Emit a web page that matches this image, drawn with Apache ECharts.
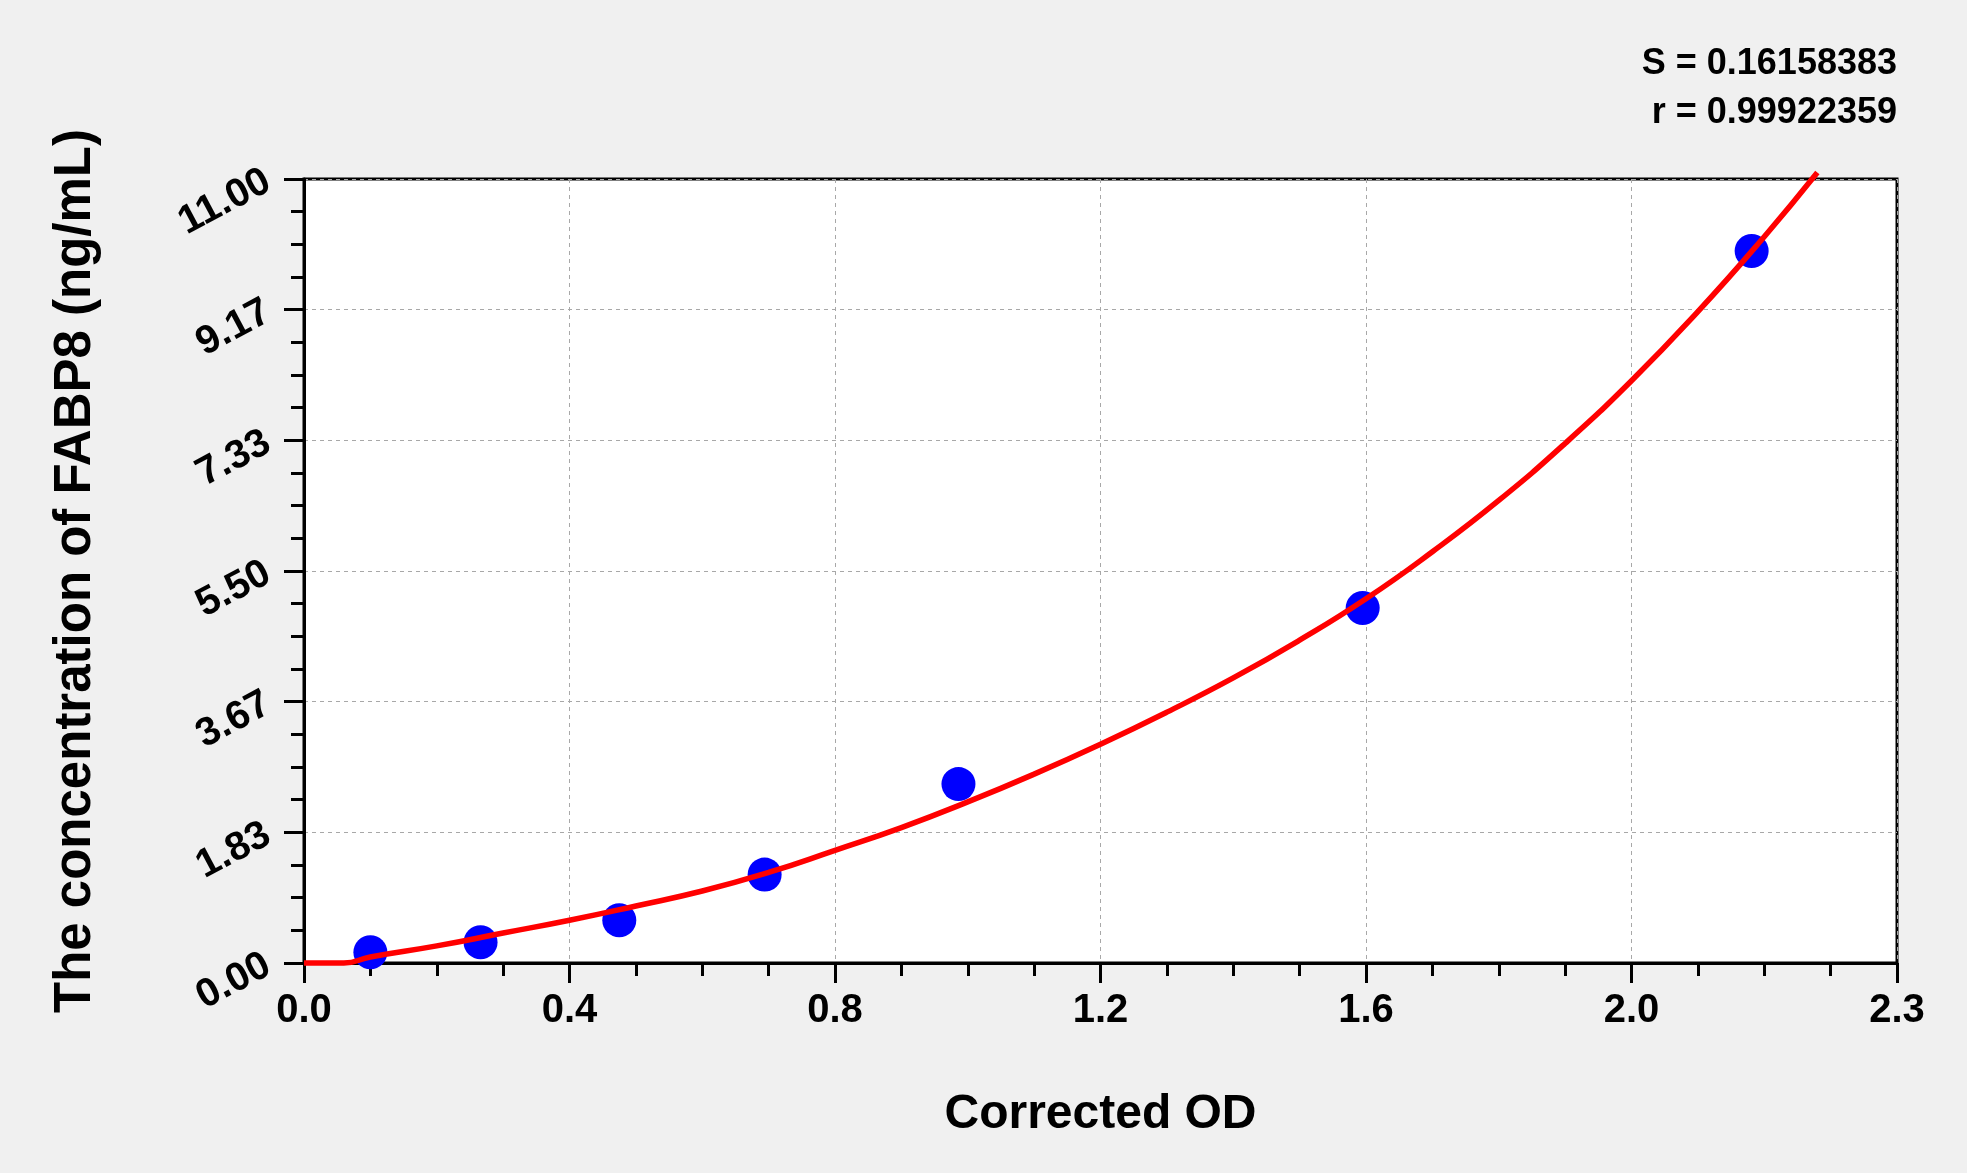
<!DOCTYPE html>
<html lang="en">
<head>
    <meta charset="UTF-8">
    <title>FABP8 standard curve</title>
    <script src="https://cdn.jsdelivr.net/npm/echarts@6/dist/echarts.min.js"></script>
    <style>
        html, body { margin: 0; padding: 0; background: #f0f0f0; }
        #main { width: 1967px; height: 1173px; }
    </style>
</head>
<body>
<div id="main"></div>
<script>
    // standard points (corrected OD vs concentration)
    var odValues = [0.100, 0.266, 0.475, 0.694, 0.986, 1.595, 2.181];
    var concValues = [0.15, 0.29, 0.60, 1.24, 2.51, 4.98, 9.99];

    // fitted curve
    var curveOD = [0, 0.06, 0.1, 0.2, 0.3, 0.4, 0.5, 0.6, 0.7, 0.8, 0.9, 1.0, 1.1, 1.2, 1.3, 1.4, 1.5, 1.6, 1.7, 1.8, 1.9, 2.0, 2.1, 2.2, 2.28];
    var curveConc = [0, 0, 0.085, 0.24, 0.42, 0.60, 0.80, 1.01, 1.27, 1.58, 1.90, 2.26, 2.65, 3.07, 3.52, 4.00, 4.53, 5.11, 5.77, 6.49, 7.29, 8.17, 9.14, 10.19, 11.09];

    var xTickLabels = ['0.0', '0.4', '0.8', '1.2', '1.6', '2.0', '2.3'];
    var yTickLabels = ['0.00', '1.83', '3.67', '5.50', '7.33', '9.17', '11.00'];

    var statLines = ['S = 0.16158383', 'r = 0.99922359'];

    var font = "'Liberation Sans', Arial, sans-serif";

    var chart = echarts.init(document.getElementById('main'));

    var points = odValues.map(function (v, i) { return [v, concValues[i]]; });
    var curve = curveOD.map(function (v, i) { return [v, curveConc[i]]; });

    var option = {
        backgroundColor: '#f0f0f0',
        animation: false,
        grid: {
            left: 304,
            right: 70,
            top: 179,
            bottom: 210,
            show: true,
            backgroundColor: '#ffffff',
            borderColor: '#000000',
            borderWidth: 3
        },
        xAxis: {
            type: 'value',
            min: 0,
            max: 2.4,
            interval: 0.4,
            name: 'Corrected OD',
            nameLocation: 'middle',
            nameGap: 128,
            nameTextStyle: { fontFamily: font, fontWeight: 'bold', fontSize: 48, color: '#000' },
            axisLine: { show: true, lineStyle: { color: '#000', width: 3 } },
            axisTick: { show: true, inside: false, length: 20, lineStyle: { color: '#000', width: 3 } },
            minorTick: { show: true, splitNumber: 4, length: 13, lineStyle: { color: '#000', width: 3 } },
            axisLabel: {
                margin: 28,
                fontFamily: font,
                fontWeight: 'bold',
                fontSize: 40,
                color: '#000',
                formatter: function (value, index) {
                    return xTickLabels[index];
                }
            },
            splitLine: { show: true, lineStyle: { color: '#a8a8a8', width: 1, type: [4, 4] } }
        },
        yAxis: {
            type: 'value',
            min: 0,
            max: 11,
            interval: 11 / 6,
            name: 'The concentration of FABP8 (ng/mL)',
            nameLocation: 'middle',
            nameGap: 203,
            nameTextStyle: { fontFamily: font, fontWeight: 'bold', fontSize: 51, color: '#000' },
            axisLine: { show: true, lineStyle: { color: '#000', width: 3 } },
            axisTick: { show: true, inside: false, length: 20, lineStyle: { color: '#000', width: 3 } },
            minorTick: { show: true, splitNumber: 4, length: 13, lineStyle: { color: '#000', width: 3 } },
            axisLabel: {
                margin: 36,
                rotate: 28,
                fontFamily: font,
                fontWeight: 'bold',
                fontSize: 40,
                color: '#000',
                formatter: function (value, index) {
                    return yTickLabels[index];
                }
            },
            splitLine: { show: true, lineStyle: { color: '#a8a8a8', width: 1, type: [4, 4] } }
        },
        series: [
            {
                type: 'line',
                data: curve,
                smooth: true,
                showSymbol: false,
                clip: false,
                lineStyle: { color: '#ff0000', width: 5.5 },
                z: 3
            },
            {
                type: 'scatter',
                data: points,
                symbol: 'circle',
                symbolSize: 34,
                itemStyle: { color: '#0000ff', opacity: 1 },
                z: 2
            }
        ],
        graphic: statLines.map(function (t, i) {
            return {
                type: 'text',
                right: 70,
                top: 46 + i * 49,
                style: {
                    text: t,
                    fontFamily: font,
                    fontWeight: 'bold',
                    fontSize: 36,
                    fill: '#000',
                    textAlign: 'right'
                }
            };
        })
    };

    chart.setOption(option);
</script>
</body>
</html>
